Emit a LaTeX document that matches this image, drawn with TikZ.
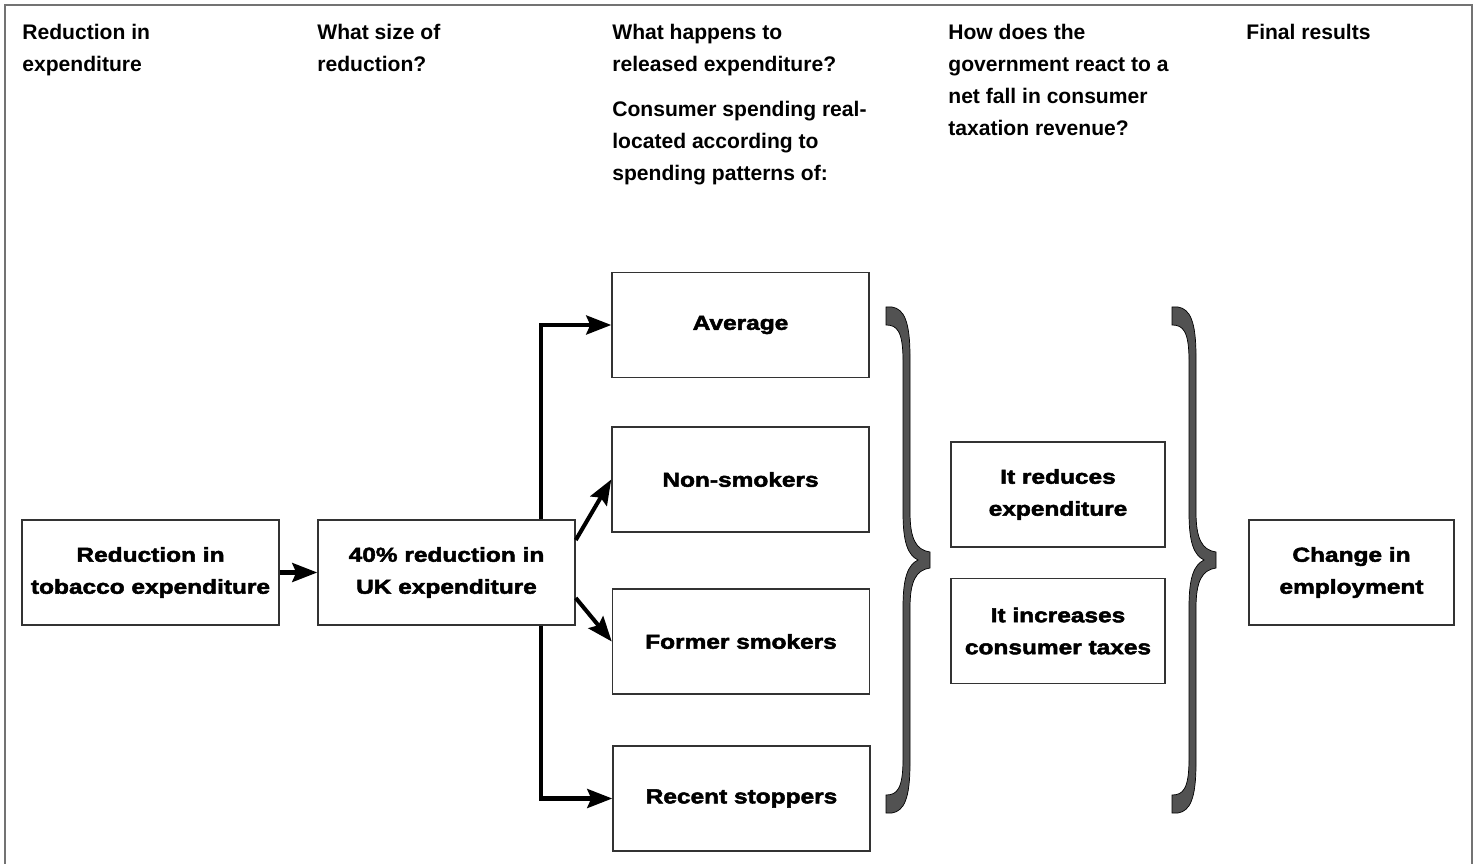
\documentclass[tikz,border=0pt]{standalone}
\usepackage{fontspec}
\setmainfont{Liberation Sans}
\newfontfamily\boxfont[FakeStretch=1.21,FakeBold=2.5]{Liberation Sans Bold}
\usepackage{tikz}
\usetikzlibrary{positioning,calc,arrows.meta}

\tikzset{
    curly/.pic={
        \filldraw[fill=black!68, draw=black, line width=0.4pt]
            (0,0) -- (6,0) .. controls (18,2) and (24,14) .. (24,50) -- (24,205)
            .. controls (24,232) and (30,243) .. (44,245) -- (44,261)
            .. controls (30,263) and (24,274) .. (24,301) -- (24,456)
            .. controls (24,492) and (18,504) .. (6,506) -- (0,506) -- (0,488)
            .. controls (11,488) and (17,482) .. (17,452) -- (17,300)
            .. controls (17,270) and (22,258) .. (32,253)
            .. controls (22,248) and (17,236) .. (17,206) -- (17,54)
            .. controls (17,24) and (11,18) .. (0,18) -- cycle;
    }
}

\begin{document}
\begin{tikzpicture}[x=0.02cm, y=-0.02cm,
    box/.style={draw=black!80, line width=0.9pt, rectangle, minimum width=5.14cm, minimum height=2.1cm,
        inner sep=0pt, align=center, font={\boxfont\fontsize{11.5}{18.2}\selectfont}},
    small/.style={box, minimum width=4.28cm},
    head/.style={anchor=north west, inner sep=0pt, align=left, font={\bfseries\fontsize{12}{18.2}\selectfont}},
    arr/.style={line width=2.3pt, -{Stealth[length=0.5cm, width=0.38cm, inset=0.08cm]}}]

    \useasboundingbox (0,0) rectangle (1479,864);
    \draw[black!55, line width=0.8pt] (5,864) -- (5,5) -- (1472,5) -- (1472,864);

    % column headings
    \node [head] (H1) at (22,24) {Reduction in\\expenditure};
    \node [head] (H2) at (317,24) {What size of\\reduction?};
    \node [head] (H3) at (612,24) {What happens to\\released expenditure?\\[0.26cm]Consumer spending real-\\located according to\\spending patterns of:};
    \node [head] (H4) at (948,24) {How does the\\government react to a\\net fall in consumer\\taxation revenue?};
    \node [head] (H5) at (1246,24) {Final results};

    % boxes
    \node [box] (RT) at (150.5,572.5) {Reduction in\\tobacco expenditure};
    \node [box] (UK) at (446.5,572.5) {40\% reduction in\\UK expenditure};
    \node [box] (AV) at (740.5,325) {Average};
    \node [box] (NS) at (740.5,479.5) {Non-smokers};
    \node [box] (FS) at (741,641.5) {Former smokers};
    \node [box] (RS) at (741.5,798.5) {Recent stoppers};
    \node [small] (GR) at (1058,494.5) {It reduces\\expenditure};
    \node [small] (GT) at (1058,631) {It increases\\consumer taxes};
    \node [box, minimum width=4.1cm] (CE) at (1351.5,572.5) {Change in\\employment};

    \draw [arr] (RT) -- (UK);
    \draw [arr] ([xshift=1.89cm]UK.north) |- (AV);
    \draw [arr] ([yshift=0.65cm]UK.east) -- (NS.west);
    \draw [arr] ([yshift=-0.51cm]UK.east) -- (FS.west);
    \draw [arr] ([xshift=1.89cm]UK.south) |- (RS);

    % braces
    \pic at (886,307) {curly};
    \pic at (1172,307) {curly};

\end{tikzpicture}
\end{document}
